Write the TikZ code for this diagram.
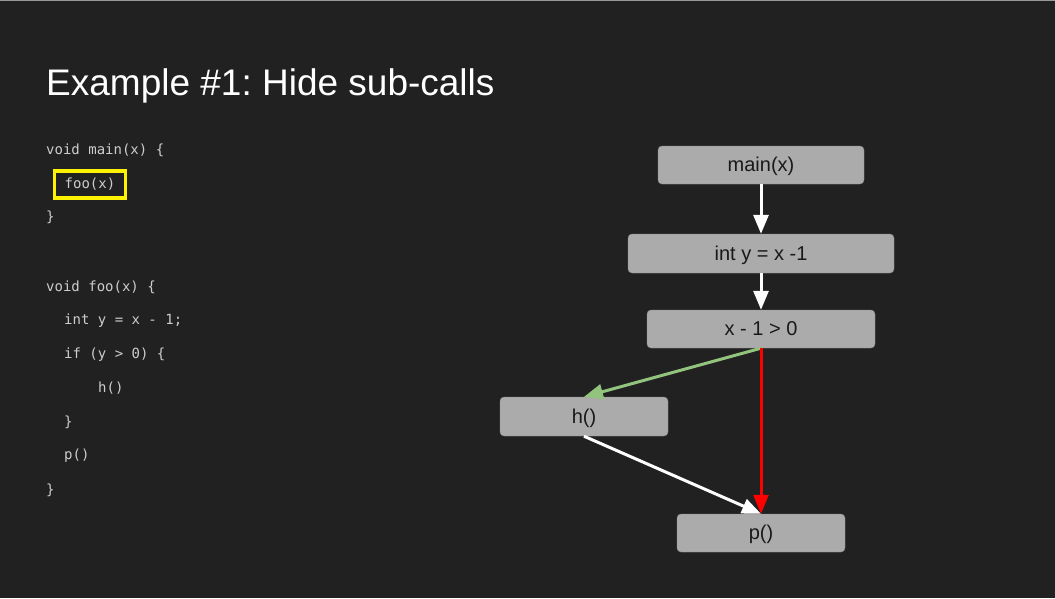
\documentclass[tikz,border=0pt]{standalone}
\usepackage{fontspec}
\setmainfont{Liberation Sans}
\newfontfamily\codefont{DejaVu Sans Mono}
\usetikzlibrary{arrows.meta}
\frenchspacing

\definecolor{slidebg}{HTML}{212121}
\definecolor{boxgray}{HTML}{ABABAB}
\definecolor{boxline}{HTML}{8C8C8C}
\definecolor{codegray}{HTML}{CDCDCD}
\definecolor{truegreen}{HTML}{93C47D}

\tikzset{
  block/.style={draw=boxline,fill=boxgray,rounded corners=4pt,minimum height=38pt,
    text=black!90,font=\fontsize{20}{24}\selectfont,inner sep=0pt,text height=16pt,text depth=2.5pt},
  code/.style={anchor=west,text=codegray,font=\codefont\fontsize{14}{16}\selectfont,inner sep=0pt},
  flow/.style={line width=3pt,-{Triangle[length=19pt,width=15pt]}}
}

\begin{document}
\begin{tikzpicture}[x=1pt,y=-1pt]
      \fill[slidebg] (0,0) rectangle (1055,598);
      \useasboundingbox (0,0) rectangle (1055,598);
      \fill[gray!80] (0,0) rectangle (1055,1);
      \node[anchor=west,text=white,font=\fontsize{37}{40}\selectfont,inner sep=0pt] (title) at (46,86) {Example \#1: Hide sub-calls};
      % code on the left
      \node[code] (l1) at (46,150) {void main(x) \{};
      \node[code,draw=yellow,line width=3.5pt,inner xsep=10pt,inner ysep=6pt,minimum height=27pt,anchor=center] (foo) at (90,184.5) {foo(x)};
      \node[code] (l3) at (46,217) {\}};
      \node[code] (l4) at (46,287) {void foo(x) \{};
      \node[code] (l5) at (64,321) {int y = x - 1;};
      \node[code] (l6) at (64,355) {if (y > 0) \{};
      \node[code] (l7) at (98,388) {h()};
      \node[code] (l8) at (64,422) {\}};
      \node[code] (l9) at (64,456) {p()};
      \node[code] (l10) at (46,490) {\}};
      % graph on the right
      \node[block,minimum width=206pt] (main) at (761,165) {main(x)};
      \node[block,minimum width=266pt,minimum height=39pt] (inty) at (761,253.5) {int y = x -1};
      \node[block,minimum width=228pt] (cond) at (761,329) {x - 1 > 0};
      \node[block,minimum width=168pt,minimum height=39pt] (h) at (584,416.5) {h()};
      \node[block,minimum width=168pt] (p) at (761,533) {p()};
      \draw[flow,white] (main) -- (inty);
      \draw[flow,white] (inty) -- (cond);
      \draw[flow,truegreen] (cond.south) -- (h.north);
      \draw[flow,red] (cond.south) -- (p.north);
      \draw[flow,white] (h.south) -- (p.north);
    \end{tikzpicture}
\end{document}
